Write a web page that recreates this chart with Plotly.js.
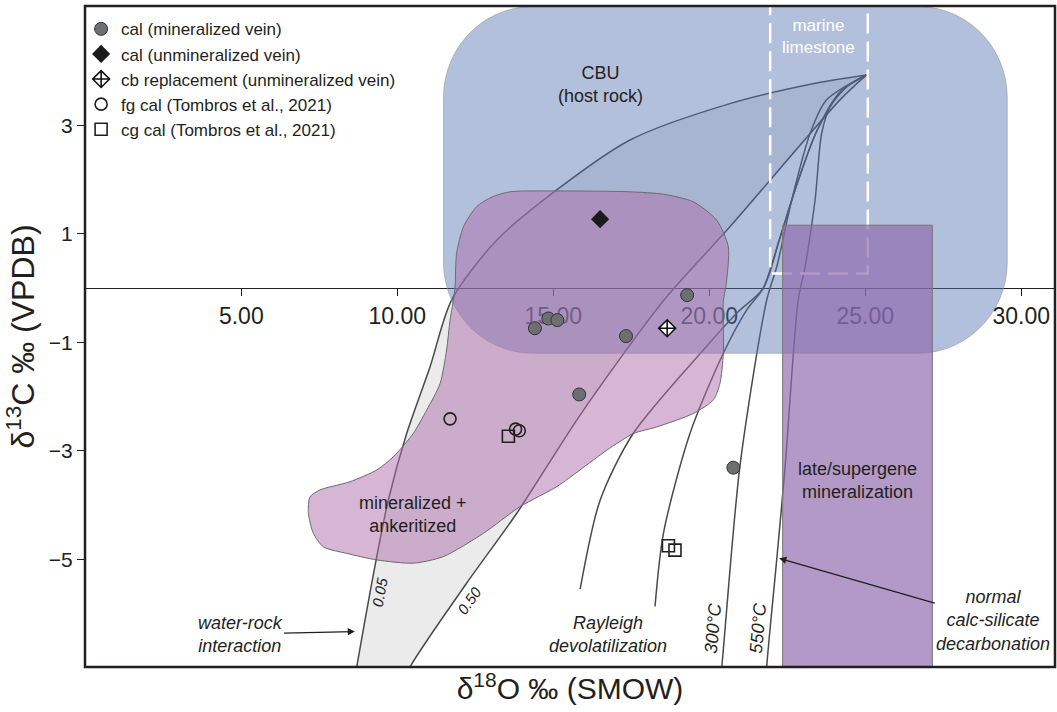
<!DOCTYPE html>
<html>
<head>
<meta charset="utf-8">
<script src="https://cdn.plot.ly/plotly-3.0.1.min.js"></script>
<style>html,body{margin:0;padding:0;background:#fff;}#chart{width:1057px;height:712px;}</style>
</head>
<body>
<div id="chart"></div>
<script>
// ---- data (δ18O ‰ SMOW, δ13C ‰ VPDB) ----
const calMinX = [19.29, 14.41, 14.84, 15.13, 17.33, 15.83, 20.77];
const calMinY = [-0.13, -0.74, -0.56, -0.59, -0.885, -1.96, -3.31];
const calUnminX = [16.5];
const calUnminY = [1.27];
const cbRepX = [18.65];
const cbRepY = [-0.74];
const fgCalX = [11.69, 13.79, 13.91];
const fgCalY = [-2.41, -2.60, -2.63];
const cgCalX = [13.56, 18.69, 18.90];
const cgCalY = [-2.73, -4.75, -4.83];

// model curves
const wr005X = [8.55, 8.70, 9.18, 9.71, 10.30, 11.05, 11.74, 13.19, 15.11, 17.46, 20.66, 23.44, 25.04];
const wr005Y = [-7.5, -6.98, -5.44, -3.91, -2.68, -1.45, -0.22, 0.885, 1.81, 2.73, 3.40, 3.78, 3.93];
const wr050X = [10.0, 10.41, 12.22, 13.83, 15.86, 18.55, 20.66, 24.19, 25.04];
const wr050Y = [-7.5, -6.98, -5.44, -4.15, -2.34, -0.22, 1.13, 3.47, 3.93];
const rayAX = [15.86, 16.5, 17.56, 19.81, 20.9, 21.73, 22.25, 22.8, 23.45, 24.2, 25.04];
const rayAY = [-5.55, -3.91, -2.68, -1.14, -0.45, 0.0, 0.9, 1.9, 2.9, 3.62, 3.93];
const rayBX = [18.26, 18.53, 19.38, 20.45, 21.2, 21.73, 22.25, 22.8, 23.45, 24.2, 25.04];
const rayBY = [-5.87, -4.52, -2.68, -1.2, -0.4, 0.0, 0.9, 1.9, 2.9, 3.62, 3.93];
const t300X = [20.3, 20.4, 20.98, 21.84, 22.16, 22.64, 23.23, 23.76, 25.04];
const t300Y = [-7.5, -6.98, -3.29, -0.22, 0.39, 1.62, 2.85, 3.47, 3.93];
const t550X = [21.8, 21.84, 22.16, 22.43, 22.85, 23.07, 23.39, 23.6, 23.87, 24.40, 25.04];
const t550Y = [-7.5, -6.98, -5.01, -3.29, -0.22, 0.39, 1.62, 2.85, 3.34, 3.71, 3.93];

// fields
const cbuX = [11.48, 29.55];
const cbuY = [-1.20, 5.19];
const mineralX = [13.61, 15.32, 17.46, 18.53, 19.49, 20.24, 20.61, 20.53, 20.45, 20.45, 20.34, 20.13, 19.49, 18.31, 17.57, 16.71, 15.86, 15.11, 13.93, 12.76, 11.47, 10.51, 9.34, 8.38, 7.63, 7.31, 7.15, 7.20, 7.52, 8.48, 9.35, 9.87, 10.51, 10.94, 11.37, 11.58, 11.69, 11.80, 11.85, 11.90, 12.12, 12.54, 13.03];
const mineralY = [1.775, 1.79, 1.775, 1.73, 1.59, 1.25, 0.76, 0.02, -0.22, -1.2, -1.76, -2.06, -2.31, -2.56, -2.68, -2.99, -3.35, -3.66, -4.03, -4.52, -4.95, -5.07, -5.01, -4.89, -4.77, -4.52, -4.15, -3.85, -3.72, -3.57, -3.35, -3.11, -2.68, -2.25, -1.76, -1.14, -0.59, -0.22, 0.02, 0.64, 1.13, 1.50, 1.68];
const marineX = [21.95, 21.95, 25.08, 25.08];
const marineY = [5.4, 0.27, 0.27, 5.4];
const lateX = [22.35, 27.15];
const lateY = [-7.3, 1.16];

const xTicks = [5, 10, 15, 20, 25, 30];
const yTicks = [-5, -3, -1, 1, 3];

// ---- build ----
const FONT = 'Liberation Sans, Arial, sans-serif';
const INK = '#231f20';
const LINE = '#4a4a4a';

function roundRect(xs, ys, rx, ry) {
  const [x0, x1] = xs, [y0, y1] = ys;
  const px = [], py = [];
  const corners = [
    [x1 - rx, y1 - ry, 0],
    [x0 + rx, y1 - ry, 90],
    [x0 + rx, y0 + ry, 180],
    [x1 - rx, y0 + ry, 270]
  ];
  corners.forEach(([cx, cy, a0]) => {
    for (let a = a0; a <= a0 + 90; a += 6) {
      const t = a * Math.PI / 180;
      px.push(cx + rx * Math.cos(t));
      py.push(cy + ry * Math.sin(t));
    }
  });
  px.push(px[0]); py.push(py[0]);
  return [px, py];
}
const [cbuPX, cbuPY] = roundRect(cbuX, cbuY, 2.85, 1.68);

const lens = {
  x: wr005X.concat(wr050X.slice().reverse()),
  y: wr005Y.concat(wr050Y.slice().reverse()),
  mode: 'lines', fill: 'toself', fillcolor: 'rgba(60,60,70,0.1)',
  line: {width: 0, shape: 'spline', smoothing: 0.6}, showlegend: false, hoverinfo: 'skip'
};
function curve(x, y) {
  return {x, y, mode: 'lines', line: {color: LINE, width: 1.5, shape: 'spline', smoothing: 0.8},
          showlegend: false, hoverinfo: 'skip'};
}
const cbu = {x: cbuPX, y: cbuPY, mode: 'lines', fill: 'toself', fillcolor: 'rgba(86,115,178,0.45)',
             line: {color: 'rgba(150,150,160,0.6)', width: 1}, showlegend: false, hoverinfo: 'skip'};
const mineral = {x: mineralX.concat([mineralX[0]]), y: mineralY.concat([mineralY[0]]), mode: 'lines',
                 fill: 'toself', fillcolor: 'rgba(173,109,169,0.5)',
                 line: {color: '#6b6b70', width: 1, shape: 'spline', smoothing: 0.7}, showlegend: false, hoverinfo: 'skip'};
const marine = {x: marineX, y: marineY, mode: 'lines',
                line: {color: '#ffffff', width: 2.5, dash: '20px,8px'}, showlegend: false, hoverinfo: 'skip'};
const late = {x: [lateX[0], lateX[0], lateX[1], lateX[1], lateX[0]],
              y: [lateY[0], lateY[1], lateY[1], lateY[0], lateY[0]], mode: 'lines', fill: 'toself',
              fillcolor: 'rgba(142,104,172,0.68)', line: {color: '#777777', width: 1}, showlegend: false, hoverinfo: 'skip'};

const pts = [
  {x: calMinX, y: calMinY, name: 'cal (mineralized vein)', mode: 'markers',
   marker: {symbol: 'circle', size: 13, color: '#6d6e71', line: {color: '#333', width: 1}}},
  {x: calUnminX, y: calUnminY, name: 'cal (unmineralized vein)', mode: 'markers',
   marker: {symbol: 'diamond', size: 14, color: '#1a1a1a', line: {color: '#1a1a1a', width: 0}}},
  {x: cbRepX, y: cbRepY, name: 'cb replacement (unmineralized vein)', mode: 'markers',
   marker: {symbol: 'diamond-cross', size: 13, color: '#ffffff', line: {color: '#111', width: 1.6}}},
  {x: fgCalX, y: fgCalY, name: 'fg cal (Tombros et al., 2021)', mode: 'markers',
   marker: {symbol: 'circle-open', size: 12, color: '#231f20', line: {color: '#231f20', width: 1.6}}},
  {x: cgCalX, y: cgCalY, name: 'cg cal (Tombros et al., 2021)', mode: 'markers',
   marker: {symbol: 'square-open', size: 12, color: '#231f20', line: {color: '#231f20', width: 1.6}}}
];

const data = [lens,
  curve(wr005X, wr005Y), curve(wr050X, wr050Y), curve(rayAX, rayAY), curve(rayBX, rayBY),
  curve(t300X, t300Y), curve(t550X, t550Y),
  cbu, mineral, marine, late].concat(pts);

function ann(text, x, y, opts) {
  return Object.assign({text, x, y, xref: 'x', yref: 'y', showarrow: false,
    font: {family: FONT, size: 18, color: INK}}, opts || {});
}
// label that sits at (tx, ty) with an arrow pointing to (hx, hy)
function arrowLabel(text, tx, ty, hx, hy) {
  return {text, x: hx, y: hy, ax: tx, ay: ty, xref: 'x', yref: 'y', axref: 'x', ayref: 'y',
    showarrow: true, arrowhead: 2, arrowsize: 1.1, arrowwidth: 1.3, arrowcolor: INK, standoff: 0,
    font: {family: FONT, size: 18, color: INK}};
}
const it = (s) => '<i>' + s + '</i>';
const annotations = [
  ann('CBU<br>(host rock)', 16.5, 3.75),
  ann('marine<br>limestone', 23.5, 4.64, {font: {family: FONT, size: 17, color: '#ffffff'}}),
  ann('mineralized +<br>ankeritized', 10.51, -4.18),
  ann('late/supergene<br>mineralization', 24.75, -3.55),
  arrowLabel(it('water-rock<br>interaction'), 4.96, -6.38, 8.64, -6.33),
  ann(it('Rayleigh<br>devolatilization'), 16.75, -6.38),
  arrowLabel(it('normal<br>calc-silicate<br>decarbonation'), 29.1, -6.12, 22.24, -4.98),
  ann(it('0.05'), 9.45, -5.6, {textangle: -80, font: {family: FONT, size: 15, color: INK}}),
  ann(it('0.50'), 12.3, -5.75, {textangle: -55, font: {family: FONT, size: 15, color: INK}}),
  ann(it('300°C'), 20.13, -6.27, {textangle: -85}),
  ann(it('550°C'), 21.57, -6.27, {textangle: -85})
];

const yMin = -6.984, yMax = 5.20;
const layout = {
  width: 1057, height: 712,
  margin: {l: 85, r: 2, t: 6, b: 45},
  paper_bgcolor: '#ffffff', plot_bgcolor: '#ffffff',
  font: {family: FONT, color: INK},
  showlegend: true,
  legend: {x: -0.004, y: 0.992, xanchor: 'left', yanchor: 'top', bgcolor: 'rgba(0,0,0,0)',
           font: {family: FONT, size: 17, color: INK}, tracegroupgap: 0, itemwidth: 30},
  xaxis: {
    range: [-0.01, 31.08], anchor: 'free', position: (0 - yMin) / (yMax - yMin),
    layer: 'below traces', showgrid: false, zeroline: false,
    showline: true, linecolor: INK, linewidth: 1.3,
    ticks: 'outside', ticklen: 7, tickwidth: 1.2, tickcolor: INK,
    tickvals: xTicks, ticktext: xTicks.map(v => v.toFixed(2)),
    tickfont: {family: FONT, size: 23, color: INK},
    title: {text: 'δ<sup>18</sup>O ‰ (SMOW)', font: {family: FONT, size: 30, color: INK}, standoff: 350}
  },
  yaxis: {
    range: [yMin, yMax], showgrid: false, zeroline: false, showline: false,
    ticks: 'outside', ticklen: 7, tickwidth: 1.2, tickcolor: INK,
    tickvals: yTicks, tickfont: {family: FONT, size: 21, color: INK},
    title: {text: 'δ<sup>13</sup>C ‰ (VPDB)', font: {family: FONT, size: 32, color: INK}, standoff: 4}
  },
  shapes: [{type: 'rect', xref: 'paper', yref: 'paper', x0: 0, x1: 1, y0: 0, y1: 1,
            line: {color: INK, width: 2.5}, layer: 'above'}],
  annotations
};

Plotly.newPlot('chart', data, layout, {displayModeBar: false, staticPlot: true});
</script>
</body>
</html>
